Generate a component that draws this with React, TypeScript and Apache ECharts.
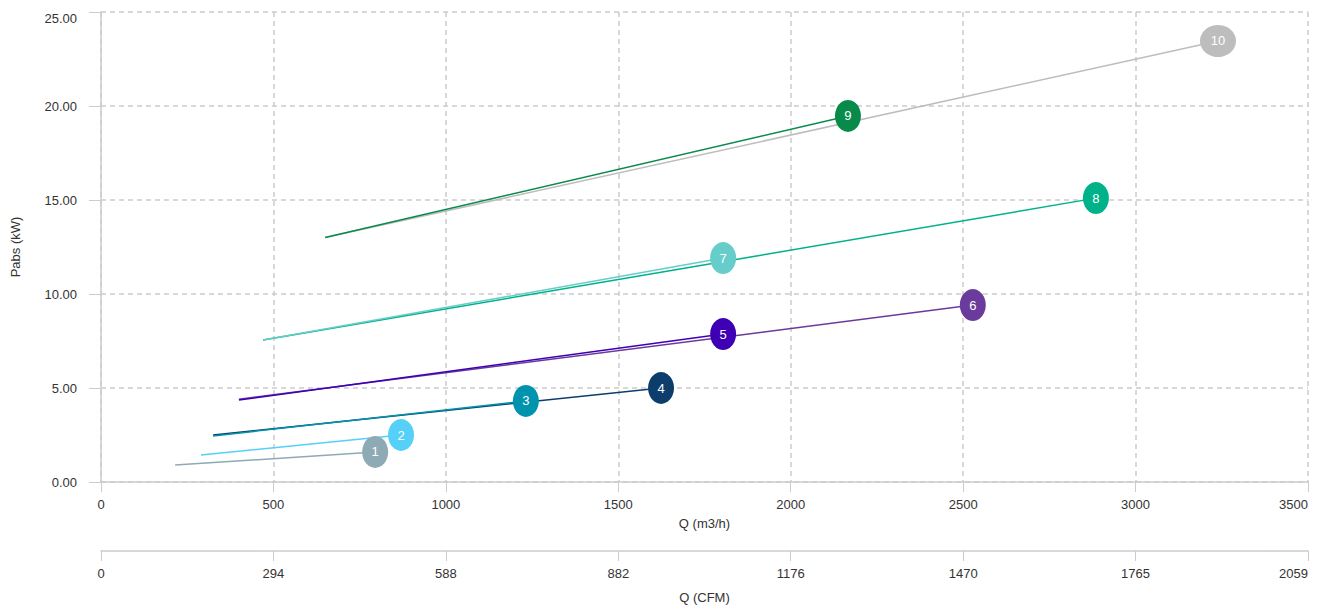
import React, { useEffect, useRef } from "react";
import * as echarts from "echarts";

const curveLabels = ["1", "2", "3", "4", "5", "6", "7", "8", "9", "10"];
const curveColors = [
  "#8eaab4", "#55d0f8", "#0093ad", "#0c3d6b", "#3f00b5",
  "#6a3a9c", "#66cdca", "#00b289", "#088a4b", "#bdbdbd",
];
const qStart = [215, 290, 325, 325, 400, 400, 470, 470, 650, 650];
const pStart = [0.9, 1.44, 2.45, 2.5, 4.36, 4.4, 7.55, 7.55, 13.0, 13.0];
const qEnd = [795, 870, 1232, 1624, 1804, 2528, 1804, 2885, 2166, 3239];
const pEnd = [1.6, 2.5, 4.31, 5.0, 7.87, 9.41, 11.91, 15.1, 19.47, 23.46];
const qTicks = [0, 500, 1000, 1500, 2000, 2500, 3000, 3500];
const cfmLabels = ["0", "294", "588", "882", "1176", "1470", "1765", "2059"];

const FONT = "'Liberation Sans', Arial, sans-serif";

export default function App() {
  const ref = useRef<HTMLDivElement>(null);
  useEffect(() => {
    if (!ref.current) return;
    const chart = echarts.init(ref.current, null, { renderer: "svg" });
    const series: any[] = [];
    for (let i = curveLabels.length - 1; i >= 0; i--) {
      const w = curveLabels[i].length > 1 ? 36 : 26;
      series.push({
        type: "line",
        name: curveLabels[i],
        xAxisIndex: 0,
        yAxisIndex: 0,
        symbol: "circle",
        showSymbol: true,
        lineStyle: { color: curveColors[i], width: 1.5 },
        itemStyle: { color: curveColors[i], opacity: 1 },
        data: [
          { value: [qStart[i], pStart[i]], symbolSize: 0, label: { show: false } },
          {
            value: [qEnd[i], pEnd[i]],
            symbolSize: [w, 32],
            label: {
              show: true,
              position: "inside",
              formatter: curveLabels[i],
              color: "#ffffff",
              fontSize: 13,
              fontFamily: FONT,
            },
          },
        ],
      });
    }
    const axisLineStyle = { color: "#cccccc", width: 1.5 };
    chart.setOption({
      animation: false,
      textStyle: { fontFamily: FONT },
      grid: { left: 93, top: 4, width: 1207, height: 470, outerBoundsMode: "none", containLabel: false },
      xAxis: [
        {
          type: "value",
          min: qTicks[0],
          max: qTicks[qTicks.length - 1],
          interval: 500,
          position: "bottom",
          name: "Q (m3/h)",
          nameLocation: "middle",
          nameGap: 35,
          nameTextStyle: { color: "#333", fontSize: 13, fontFamily: FONT },
          axisLine: { show: true, lineStyle: axisLineStyle },
          axisTick: { show: true, length: 10, lineStyle: { color: "#cccccc" } },
          axisLabel: {
            color: "#333",
            fontSize: 13,
            margin: 16,
            fontFamily: FONT,
            alignMaxLabel: "right",
            formatter: (v: number) => String(v),
          },
          splitLine: { show: true, lineStyle: { type: [5, 4], color: "#cccccc", width: 1.5 } },
        },
        {
          type: "value",
          min: qTicks[0],
          max: qTicks[qTicks.length - 1],
          interval: 500,
          position: "bottom",
          offset: 69,
          name: "Q (CFM)",
          nameLocation: "middle",
          nameGap: 40,
          nameTextStyle: { color: "#333", fontSize: 13, fontFamily: FONT },
          axisLine: { show: true, lineStyle: axisLineStyle },
          axisTick: { show: true, length: 10, lineStyle: { color: "#cccccc" } },
          axisLabel: {
            color: "#333",
            fontSize: 13,
            margin: 16,
            fontFamily: FONT,
            alignMaxLabel: "right",
            formatter: (v: number) => cfmLabels[Math.round(v / 500)] ?? "",
          },
          splitLine: { show: false },
        },
      ],
      yAxis: {
        type: "value",
        min: 0,
        max: 25,
        interval: 5,
        name: "Pabs (kW)",
        nameLocation: "middle",
        nameGap: 79,
        nameTextStyle: { color: "#333", fontSize: 13, fontFamily: FONT },
        axisLine: { show: true, lineStyle: axisLineStyle },
        axisTick: { show: true, length: 12, lineStyle: { color: "#cccccc" } },
        axisLabel: {
          color: "#333",
          fontSize: 13,
          margin: 24,
          fontFamily: FONT,
          verticalAlignMaxLabel: "top",
          formatter: (v: number) => v.toFixed(2),
        },
        splitLine: { show: true, lineStyle: { type: [5, 4], color: "#cccccc", width: 1.5 } },
      },
      series,
    });
    return () => chart.dispose();
  }, []);
  return <div ref={ref} style={{ width: 1309, height: 597 }} />;
}
